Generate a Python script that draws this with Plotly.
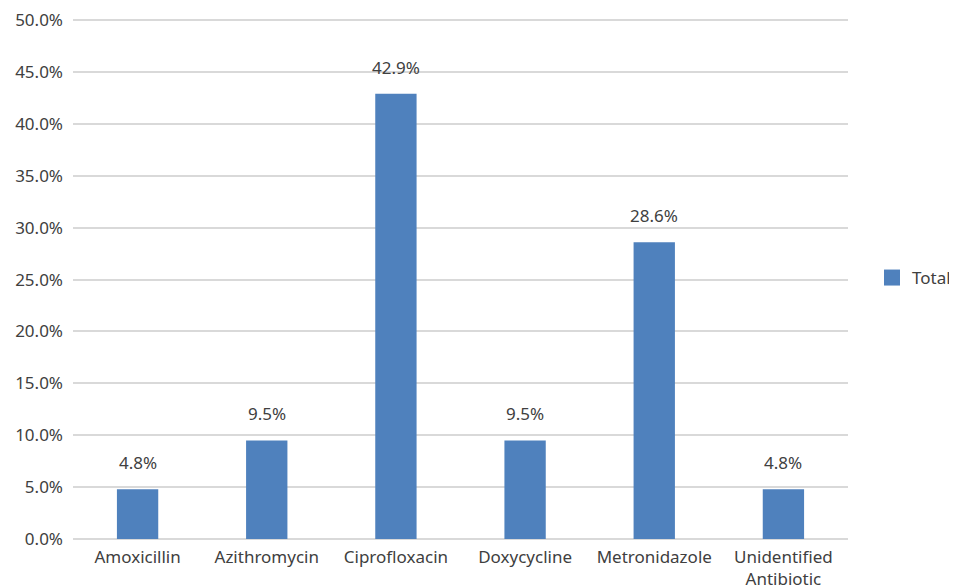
import plotly.graph_objects as go

categories = ["Amoxicillin", "Azithromycin", "Ciprofloxacin", "Doxycycline", "Metronidazole", "Unidentified<br>Antibiotic"]
values = [0.048, 0.095, 0.429, 0.095, 0.286, 0.048]
series_name = "Total"

font_family = "Noto Sans"
text_color = "#404040"
bar_color = "#4F81BD"

fig = go.Figure()
fig.add_trace(go.Bar(
    x=categories, y=values, name=series_name,
    marker=dict(color=bar_color, line=dict(width=0)),
    width=0.32, showlegend=False,
))
# legend entry with a larger square swatch
fig.add_trace(go.Scatter(
    x=[None], y=[None], mode="markers", name=series_name,
    marker=dict(symbol="square", size=16, color=bar_color),
    showlegend=True,
))

for c, v in zip(categories, values):
    fig.add_annotation(x=c, y=v, text=f"{v*100:.1f}%", showarrow=False,
                       yanchor="bottom", yshift=13,
                       font=dict(family=font_family, size=17, color=text_color))

fig.update_layout(
    width=957, height=588,
    margin=dict(l=65, r=117, t=9, b=57, autoexpand=False),
    paper_bgcolor="white", plot_bgcolor="white",
    font=dict(family=font_family, size=17, color=text_color),
    showlegend=True,
    legend=dict(x=1.031, y=0.5, xanchor="left", yanchor="middle",
                font=dict(family=font_family, size=17, color=text_color),
                itemwidth=30, borderwidth=0),
    xaxis=dict(showline=False, showgrid=False, ticks="", automargin=False,
               tickfont=dict(size=17), ticklabelstandoff=6),
    yaxis=dict(range=[0, 0.503], tickvals=[i * 0.05 for i in range(11)], tickformat=".1%",
               automargin=False,
               showgrid=True, gridcolor="#D9D9D9", gridwidth=1.5,
               zeroline=True, zerolinecolor="#D9D9D9", zerolinewidth=1.5,
               showline=False, ticks="", tickfont=dict(size=17), ticklabelstandoff=9),
)

fig.write_html("out.html")
